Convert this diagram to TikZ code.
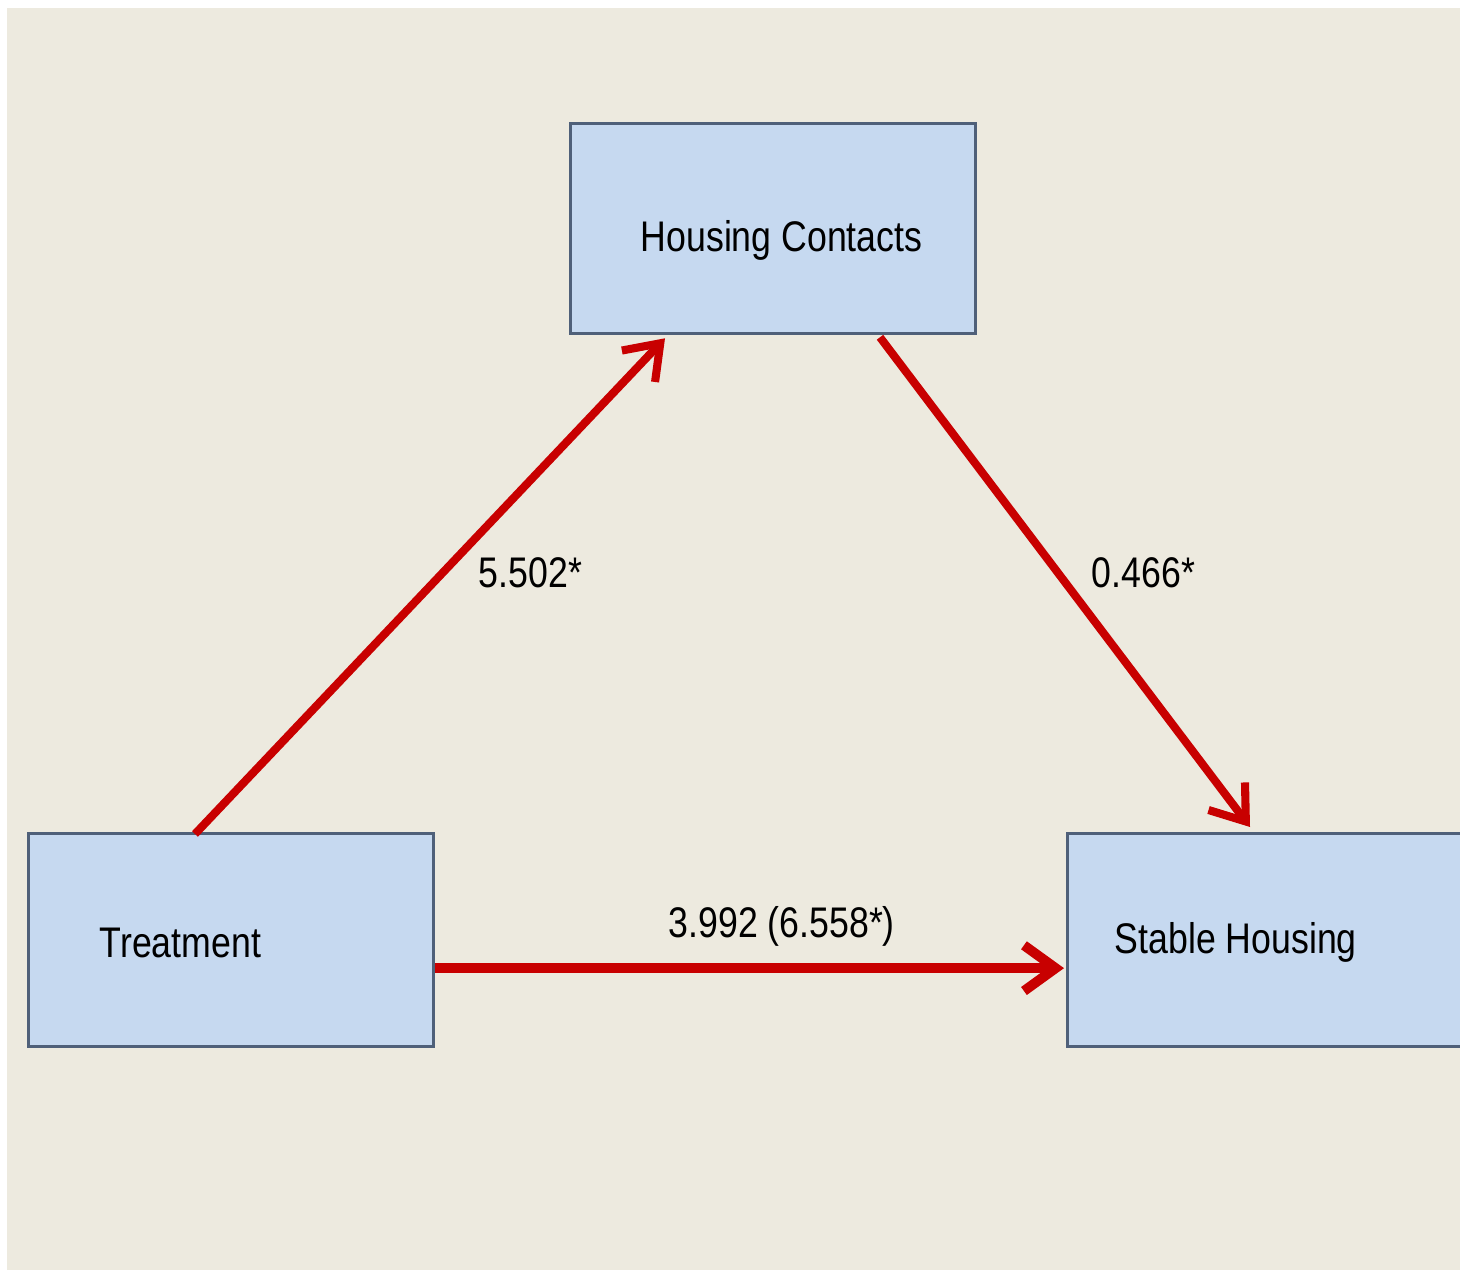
\documentclass[tikz,border=0pt]{standalone}
\usepackage{fontspec}
\setmainfont{Liberation Sans}
\usetikzlibrary{arrows.meta,calc}

\definecolor{canvas}{HTML}{EDEADF}
\definecolor{boxfill}{HTML}{C6D9F0}
\definecolor{boxline}{HTML}{4F6079}
\definecolor{pathred}{HTML}{C80000}

\newcommand{\lbl}[1]{\scalebox{1}[1.2]{\fontsize{10.15}{12}\selectfont #1}}

\tikzset{
  varbox/.style={draw=boxline, line width=0.9pt, fill=boxfill, anchor=north west,
    minimum width=4.05cm, inner sep=0pt},
  txt/.style={anchor=base west, inner sep=0pt, text=black},
  path arrow/.style={draw=pathred, line width=2.3pt,
    -{Straight Barb[length=9pt, width=13pt]}},
}

\begin{document}
\begin{tikzpicture}[x=0.01cm, y=-0.01cm]
  % page and panel
  \useasboundingbox (0,0) rectangle (1460,1270);
  \fill[white] (0,0) rectangle (1460,1270);
  \fill[canvas] (7,8) rectangle (1460,1270);

  % variable boxes
  \node[varbox, minimum height=2.1cm] (hc) at (569,122) {};
  \node[varbox, minimum height=2.13cm] (tr) at (27,832) {};
  \node[varbox, minimum height=2.13cm] (sh) at (1066,832) {};

  % box texts
  \node[txt] (hct) at (640,252) {\lbl{Housing Contacts}};
  \node[txt] (trt) at (99,957) {\lbl{Treatment}};
  \node[txt] (sht) at (1114,953) {\lbl{Stable Housing}};

  % paths
  \draw[path arrow] ($(tr.north west)+(168,2)$) -- ($(hc.south west)+(96,3)$);
  \draw[path arrow] ($(hc.south west)+(311,2)$) -- ($(sh.north west)+(184,-5)$);
  \draw[path arrow, line width=2.8pt] ($(tr.east)+(0,28)$) -- ($(sh.west)+(-2,28)$);

  % coefficients
  \node[txt] (c1) at (478,588) {\lbl{5.502*}};
  \node[txt] (c2) at (1091,588) {\lbl{0.466*}};
  \node[txt] (c3) at (668,937) {\lbl{3.992 (6.558*)}};
\end{tikzpicture}
\end{document}
